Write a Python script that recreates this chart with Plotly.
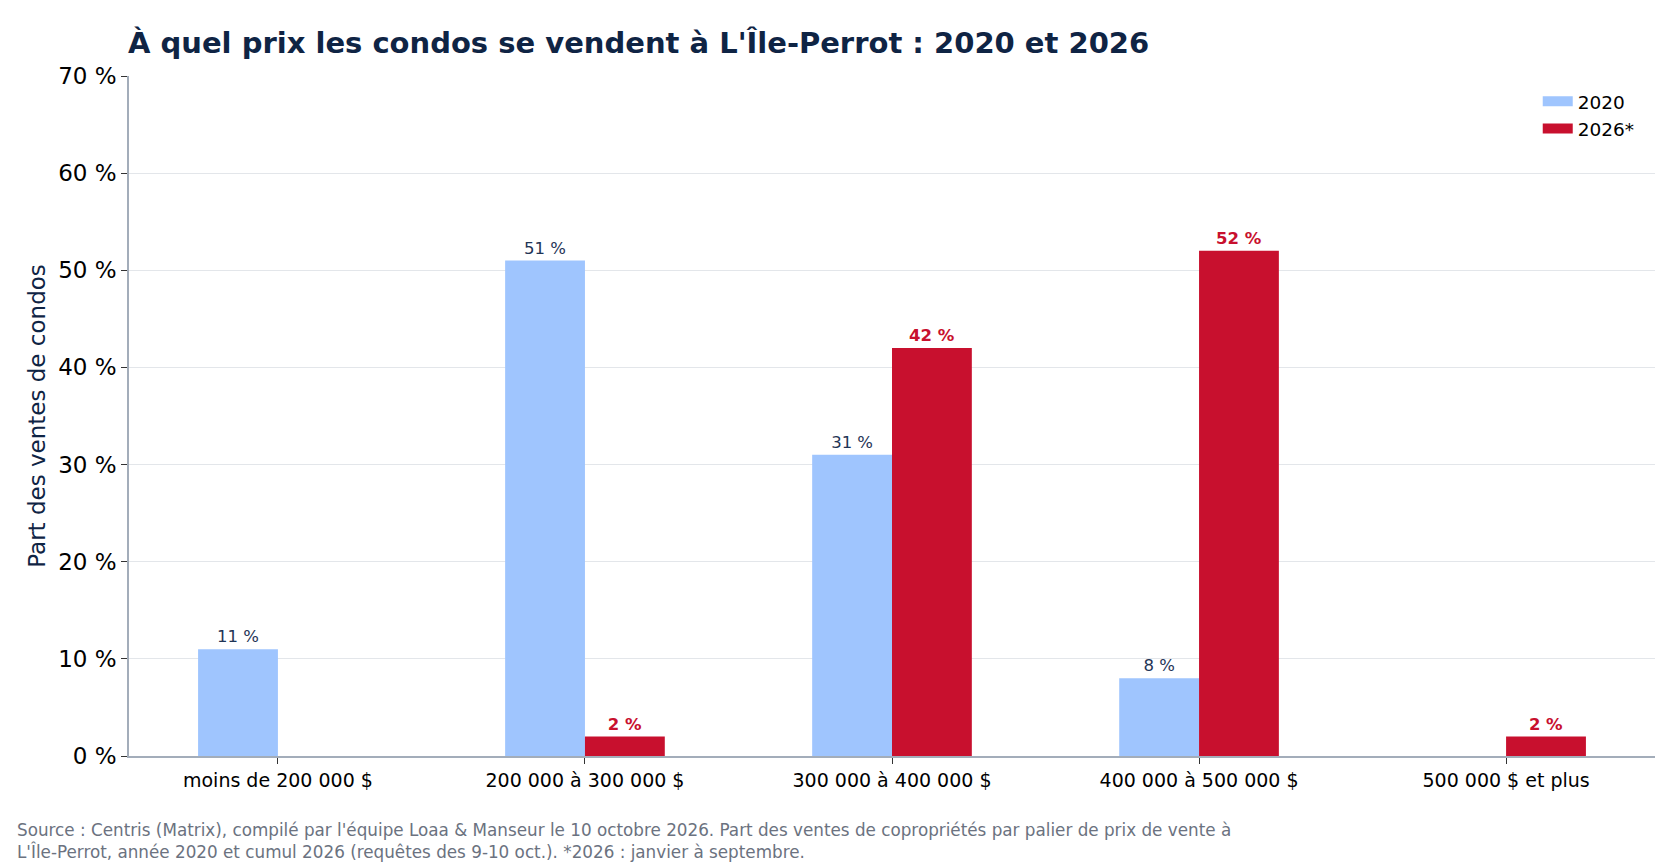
import plotly.graph_objects as go

categories = ["moins de 200 000 $", "200 000 à 300 000 $", "300 000 à 400 000 $",
              "400 000 à 500 000 $", "500 000 $ et plus"]
values_2020 = [11, 51, 31, 8, None]
values_2026 = [None, 2, 42, 52, 2]
tick_vals = [0, 10, 20, 30, 40, 50, 60, 70]
tick_text = ["0 %", "10 %", "20 %", "30 %", "40 %", "50 %", "60 %", "70 %"]

BLUE = "#9fc5fe"
RED = "#c8102e"
NAVY = "#0f2444"
FONT = "DejaVu Sans"

def lbl(vals):
    return [f"{v} %" if v is not None else "" for v in vals]

fig = go.Figure()
fig.add_trace(go.Bar(
    x=categories, y=values_2020, name="2020", marker_color=BLUE,
    marker_line_width=0, showlegend=False,
    text=lbl(values_2020), textposition="outside", cliponaxis=False,
    textfont=dict(family=FONT, size=16.5, color="#1f3556"),
))
fig.add_trace(go.Bar(
    x=categories, y=values_2026, name="2026*", marker_color=RED,
    marker_line_width=0, showlegend=False,
    text=lbl(values_2026), textposition="outside", cliponaxis=False,
    textfont=dict(family=FONT, size=16.5, color=RED, weight="bold"),
))
# legend proxies (no marks drawn)
for name, col in [("2020", BLUE), ("2026*", RED)]:
    fig.add_trace(go.Scatter(x=[None], y=[None], mode="lines", name=name,
                             legendgroup=name,
                             line=dict(color=col, width=15)))

fig.update_layout(
    width=1680, height=868,
    margin=dict(l=129, r=25, t=76, b=112),
    paper_bgcolor="white", plot_bgcolor="white",
    barmode="group", bargap=0.48, bargroupgap=0,
    font=dict(family=FONT, color="black"),
    title=dict(
        text="<b>À quel prix les condos se vendent à L'Île-Perrot : 2020 et 2026</b>",
        x=128 / 1680, xanchor="left", xref="container",
        y=1 - 43 / 868, yanchor="middle", yref="container",
        font=dict(family=FONT, size=29, color=NAVY),
    ),
    legend=dict(
        x=0.99, xanchor="right", y=0.99, yanchor="top",
        font=dict(family=FONT, size=18.5, color="black"),
        bgcolor="rgba(0,0,0,0)", traceorder="normal",
        tracegroupgap=5,
    ),
    showlegend=True,
)
fig.update_xaxes(
    range=[-0.485, 4.485],
    showline=True, linecolor="#a3adba", linewidth=1.5,
    ticks="outside", ticklen=6, tickcolor="#333333",
    tickfont=dict(family=FONT, size=19, color="black"),
    showgrid=False,
)
fig.update_yaxes(
    range=[0, 70], tickvals=tick_vals, ticktext=tick_text,
    showline=True, linecolor="#a3adba", linewidth=1.5,
    ticks="outside", ticklen=6, tickcolor="#333333",
    tickfont=dict(family=FONT, size=23, color="black"),
    showgrid=True, gridcolor="#e3e6ea", gridwidth=1.3,
    zeroline=False,
    title=dict(text="Part des ventes de condos", font=dict(family=FONT, size=23, color=NAVY), standoff=6),
)

fig.add_annotation(
    xref="paper", yref="paper",
    x=(15 - 129) / (1680 - 129 - 25), xanchor="left",
    y=-(818 - 756) / (868 - 76 - 112), yanchor="top",
    align="left", showarrow=False,
    text="Source : Centris (Matrix), compilé par l'équipe Loaa & Manseur le 10 octobre 2026. Part des ventes de copropriétés par palier de prix de vente à<br>L'Île-Perrot, année 2020 et cumul 2026 (requêtes des 9-10 oct.). *2026 : janvier à septembre.",
    font=dict(family=FONT, size=16.8, color="#6b7280"),
)

fig.write_html("out.html")
